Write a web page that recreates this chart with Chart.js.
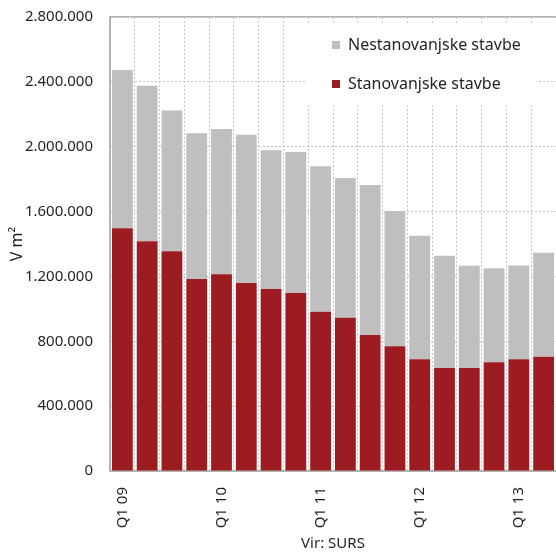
<!DOCTYPE html>
<html>
<head>
<meta charset="utf-8">
<script src="https://cdn.jsdelivr.net/npm/chart.js@4"></script>
<style>
  html, body { margin: 0; padding: 0; background: #fff; }
  #wrap { width: 556px; height: 553px; position: relative; }
</style>
</head>
<body>
<div id="wrap"><canvas id="gradnjaChart"></canvas></div>
<script>
const categories = [
  'Q1 09', 'Q2 09', 'Q3 09', 'Q4 09',
  'Q1 10', 'Q2 10', 'Q3 10', 'Q4 10',
  'Q1 11', 'Q2 11', 'Q3 11', 'Q4 11',
  'Q1 12', 'Q2 12', 'Q3 12', 'Q4 12',
  'Q1 13', 'Q2 13'
];

// stanovanjske stavbe (spodnji, rdeči del)
const stanovanjske = [
  1497000, 1417000, 1355000, 1184000,
  1213000, 1159000, 1122000, 1098000,
  982000, 945000, 839000, 769000,
  689000, 635000, 635000, 670000,
  689000, 705000
];

// nestanovanjske stavbe (zgornji, sivi del)
const nestanovanjske = [
  976000, 959000, 869000, 899000,
  896000, 915000, 856000, 869000,
  897000, 862000, 925000, 834000,
  762000, 693000, 631000, 580000,
  578000, 641000
];

const yMin = 0;
const yMax = 2800000;
const yStep = 400000;

const FONT = '"Noto Sans", sans-serif';
const TEXT = '#231f20';
const GRID = '#c4c4c4';
const AXIS = '#b3b3b3';

function fmt(v) {
  return String(v).replace(/\B(?=(\d{3})+(?!\d))/g, '.');
}

// legenda v desnem zgornjem kotu, z belim ozadjem
const legendBox = {
  id: 'legendBox',
  afterLayout(chart) {
    const lg = chart.legend;
    const a = chart.chartArea;
    lg.left = a.left + 199;
    lg.top = a.top - 3;
  },
  beforeDatasetsDraw(chart) {
    const {ctx, chartArea: a} = chart;
    ctx.save();
    ctx.fillStyle = '#fff';
    ctx.fillRect(a.left + 196, a.top + 8, 231, 81);
    ctx.restore();
    chart.legend.draw();
  }
};

const ctx = document.getElementById('gradnjaChart').getContext('2d');
new Chart(ctx, {
  type: 'bar',
  data: {
    labels: categories,
    datasets: [
      {
        label: 'Stanovanjske stavbe',
        data: stanovanjske,
        backgroundColor: '#9c1c21',
        borderWidth: 0,
        barPercentage: 0.84,
        categoryPercentage: 1
      },
      {
        label: 'Nestanovanjske stavbe',
        data: nestanovanjske,
        backgroundColor: '#bfbfbf',
        borderWidth: 0,
        barPercentage: 0.84,
        categoryPercentage: 1
      }
    ]
  },
  options: {
    responsive: true,
    maintainAspectRatio: false,
    animation: false,
    layout: { padding: { left: 4, right: 0, top: 17, bottom: 0 } },
    plugins: {
      tooltip: { enabled: false },
      legend: {
        position: 'chartArea',
        align: 'start',
        reverse: true,
        labels: {
          boxWidth: 8,
          boxHeight: 8,
          padding: 23,
          color: TEXT,
          font: { family: FONT, size: 16 }
        }
      }
    },
    scales: {
      x: {
        stacked: true,
        grid: { color: GRID, lineWidth: 1, drawTicks: false, offset: true },
        border: { display: true, color: AXIS, width: 2, dash: [2, 2] },
        ticks: {
          autoSkip: false,
          minRotation: 90,
          maxRotation: 90,
          padding: 16,
          color: TEXT,
          font: { family: FONT, size: 15 },
          callback(value, index) {
            const l = categories[index];
            return l.startsWith('Q1') ? l : '';
          }
        },
        title: {
          display: true,
          text: 'Vir: SURS',
          color: TEXT,
          font: { family: FONT, size: 15 },
          padding: { top: 4, bottom: 0 }
        },
        afterFit(scale) {
          scale.height = 82;
          scale.paddingLeft = 0;
          scale.paddingRight = 0;
        }
      },
      x2: {
        type: 'category',
        position: 'top',
        grid: { display: false, drawTicks: false },
        ticks: { display: false },
        border: { display: true, color: AXIS, width: 1.5 },
        afterFit(scale) {
          scale.height = 0;
          scale.paddingLeft = 0;
          scale.paddingRight = 0;
        }
      },
      y: {
        stacked: true,
        min: yMin,
        max: yMax,
        grid: { color: GRID, lineWidth: 1, drawTicks: false },
        border: { display: true, color: AXIS, width: 2, dash: [2, 2] },
        ticks: {
          stepSize: yStep,
          padding: 17,
          color: TEXT,
          font: { family: FONT, size: 15 },
          callback: v => fmt(v)
        },
        title: {
          display: true,
          text: 'V m²',
          color: TEXT,
          font: { family: FONT, size: 16 },
          padding: { top: 4, bottom: 4 }
        },
        afterFit(scale) {
          scale.width = 106;
          scale.paddingTop = 0;
          scale.paddingBottom = 0;
        }
      }
    }
  },
  plugins: [legendBox]
});
</script>
</body>
</html>
